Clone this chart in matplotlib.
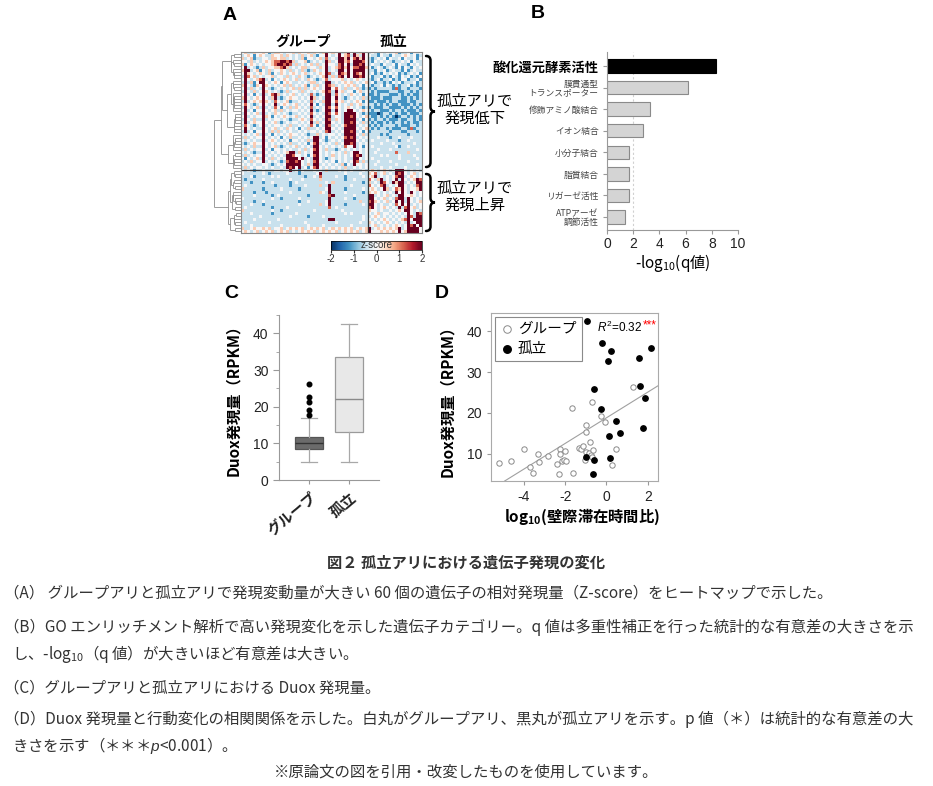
import numpy as np
import matplotlib
matplotlib.use("Agg")
from matplotlib import pyplot as plt
from matplotlib.path import Path
from matplotlib.patches import PathPatch
from matplotlib.collections import LineCollection
from matplotlib.ticker import MultipleLocator

plt.rcParams['font.family'] = ['Liberation Sans', 'Noto Sans CJK JP', 'DejaVu Sans']
plt.rcParams['mathtext.fontset'] = 'custom'
plt.rcParams['mathtext.rm'] = 'Liberation Sans'
plt.rcParams['mathtext.it'] = 'Liberation Sans:italic'
plt.rcParams['mathtext.bf'] = 'Liberation Sans:bold'
plt.rcParams['mathtext.default'] = 'regular'
plt.rcParams['axes.unicode_minus'] = False

JP = ['Noto Sans CJK JP', 'DejaVu Sans']

# --- A: heatmap, levels 0..6 (see z_levels) ; 42 group columns | 18 isolated columns
z_levels = [-2.0, -1.2, -0.45, 0.0, 0.5, 1.2, 2.0]
hm_rows = [
    "342243 343124 432334 243342 432463 436246 362463 | 232132 323412 231323",
    "234313 432243 342432 324234 213363 236345 264263 | 322132 213223 432312",
    "423412 233244 344232 324133 234252 326646 356463 | 212323 132231 322313",
    "332423 234345 566564 233412 323264 236645 366653 | 213232 321223 231322",
    "413432 323345 665652 423234 242363 325636 266563 | 232213 223132 213232",
    "362321 242334 456423 234423 324362 345646 355664 | 312321 232131 321323",
    "466234 132423 343242 324212 432362 326636 366663 | 221323 123221 312322",
    "364323 432413 243234 323423 234365 236546 365463 | 231213 232312 123231",
    "265342 323342 332423 243212 323462 425636 366563 | 312231 213213 231213",
    "363234 562313 234323 423243 212352 333423 234323 | 212312 231213 312231",
    "262413 663234 313432 232324 423266 232343 423234 | 231221 213231 222312",
    "463214 364323 234242 323413 242365 423234 342313 | 212231 321212 231212",
    "362423 263212 323234 242423 432366 353242 234212 | 121222 221512 212221",
    "263242 364323 212423 324232 323465 263423 313423 | 212111 122211 221212",
    "362313 262356 423234 232325 212366 253232 432313 | 112122 211121 212112",
    "463234 363246 212343 323236 423266 363212 323242 | 211121 112221 121212",
    "262343 464325 323412 232325 232466 353423 234313 | 112111 212211 121122",
    "353212 363236 234323 423236 313266 263232 423423 | 221212 121121 112121",
    "263234 262325 313242 432325 232365 353234 323212 | 121112 211112 121212",
    "362313 363234 242323 323236 212366 263236 632343 | 212211 121221 211121",
    "263234 262324 323212 232325 323265 353266 663212 | 111012 212121 121112",
    "362323 364313 234323 423236 232366 233266 563234 | 211212 121012 212121",
    "263242 262323 323212 234325 323265 243266 662313 | 121221 211121 122121",
    "362343 363234 212323 323236 242366 323266 563242 | 212112 121221 212112",
    "253212 362323 323242 232325 313265 232356 662323 | 121212 222121 112212",
    "363232 263234 232432 313242 232366 323266 663234 | 212122 121112 215122",
    "262313 363242 423232 232323 323256 232366 562313 | 122222 212221 122212",
    "323234 262313 232343 323212 242323 323266 663242 | 222212 122222 212222",
    "242323 363232 313242 232323 662313 232356 562323 | 222322 212232 223222",
    "323232 262343 232313 323242 663212 323266 663232 | 232222 322212 232222",
    "212343 363232 323242 232313 562323 242366 562323 | 222232 223222 222322",
    "323242 263234 212323 423232 663232 323253 362313 | 232222 222312 232222",
    "242323 362313 323232 232423 563242 212323 232323 | 222322 232222 222232",
    "323212 263232 323466 242323 663232 323242 366323 | 223222 222522 242222",
    "242323 362323 232665 332313 563232 423232 365623 | 222232 322232 222322",
    "313234 263242 323666 636232 663212 323232 266323 | 232222 222232 222232",
    "232423 362323 212566 563232 563232 313232 365242 | 222322 232222 232222",
    "323232 233212 323666 663242 662323 232413 263323 | 223222 222322 222232",
    "242323 323232 232656 362313 563232 323242 232323 | 222232 232222 322222",
    "323212 232223 323362 313222 323242 223232 322232 | 343234 323666 323232",
    "322222 232122 222322 212222 236222 222232 222322 | 435234 232656 323423",
    "222312 222232 322222 222122 325222 232212 222232 | 346232 323566 234323",
    "212222 232222 222232 223222 224222 222212 232222 | 532462 323626 323465",
    "222122 212232 222212 322222 222232 422222 222212 | 423265 326466 232366",
    "232222 222221 222212 222322 224226 222222 322222 | 532356 232366 323256",
    "422222 212222 232222 212222 222236 222212 222232 | 343236 423546 323346",
    "222212 221222 222232 222222 224326 222232 222212 | 434323 232636 326323",
    "222232 222212 322222 222212 222225 622222 232222 | 662323 423266 334323",
    "322222 222232 212222 232222 222226 222232 212222 | 663234 232566 263232",
    "222212 232222 222222 212232 222236 222222 222422 | 564323 423636 263234",
    "222322 212222 222222 232222 224236 222212 222232 | 663232 232536 362323",
    "232222 222212 222322 222222 222225 232222 222222 | 563234 323262 563423",
    "422222 222232 212222 222222 322222 222322 222222 | 433232 232343 663232",
    "222322 222212 222222 322222 222222 222232 322222 | 323423 323232 363265",
    "222222 322222 222232 222212 222322 222222 222232 | 234323 232323 265266",
    "222232 222222 322222 222222 222226 622222 222232 | 323234 323234 563666",
    "232222 222322 222222 222322 222222 232222 222322 | 432323 432323 262366",
    "222322 222222 232222 222232 222322 222222 322222 | 234232 323432 365636",
    "422343 343423 342343 434234 343423 434343 423434 | 623434 343462 366663",
    "343234 234342 343423 234343 423434 342343 434234 | 633343 434363 466663",
]
n_group_cols = 42
n_down_rows = 39

# --- B: GO enrichment
go_terms = ['酸化還元酵素活性', '膜貫通型\nトランスポーター', '修飾アミノ酸結合', 'イオン結合',
            '小分子結合', '脂質結合', 'リガーゼ活性', 'ATPアーゼ\n調節活性']
go_q = [8.35, 6.2, 3.3, 2.75, 1.68, 1.68, 1.68, 1.37]

# --- C: Duox box plot
box_labels = ['グループ', '孤立']
box_low = [5.0, 5.0]
box_q1 = [8.4, 13.1]
box_med = [10.0, 22.2]
box_q3 = [11.6, 33.5]
box_high = [17.0, 42.5]
group_outliers = [17.6, 19.0, 21.2, 22.6, 26.1]

# --- D: Duox vs wall time ratio
grp_x = [-5.23, -4.63, -3.98, -3.73, -3.56, -3.34, -3.27, -2.85, -2.39, -2.31, -2.27, -2.27, -2.16,
         -2.05, -1.98, -2.0, -1.65, -1.61, -1.32, -1.23, -1.13, -0.98, -1.0, -1.0, -1.05, -0.82,
         -0.84, -0.76, -0.68, -0.63, -0.68, -0.26, -0.06, 0.26, 0.44, 1.27, -1.68]
grp_y = [7.7, 8.3, 11.1, 6.7, 5.3, 10.1, 8.0, 9.4, 7.5, 5.0, 11.1, 10.1, 8.3,
         8.5, 8.4, 10.8, 21.3, 5.4, 11.5, 11.1, 12.0, 17.1, 15.4, 10.4, 8.5, 12.8,
         10.2, 9.7, 9.3, 10.9, 22.8, 19.2, 17.7, 7.2, 11.3, 26.3, 41.9]
iso_x = [-0.95, -0.24, 0.21, 0.08, 1.60, 2.18, -0.58, 1.65, 1.85, -0.26, 0.48, 0.66, 0.13, 1.76,
         -0.98, -0.58, 0.16, -0.63]
iso_y = [42.5, 37.0, 35.1, 32.6, 33.3, 35.9, 25.9, 26.7, 23.6, 21.0, 18.0, 15.1, 14.3, 16.3,
         9.3, 8.5, 9.1, 5.1]

heat = np.array([[int(c) for c in r.replace('|', '').replace(' ', '')] for r in hm_rows])
zscore = np.array(z_levels)[heat]

W, H = 933, 786
fig = plt.figure(figsize=(W / 100, H / 100), dpi=100)


def box(l, t, r, b):
    return [l / W, 1 - b / H, (r - l) / W, (b - t) / H]


ov = fig.add_axes([0, 0, 1, 1])
ov.set_xlim(0, W)
ov.set_ylim(H, 0)
ov.axis('off')


def tree_segments(mat):
    # ward-like merging restricted to neighbouring rows so leaf order stays
    nodes = [([i], float(i), 0.0) for i in range(len(mat))]
    segs = []
    h = 0.0
    while len(nodes) > 1:
        best, k = None, 0
        for j in range(len(nodes) - 1):
            ra, rb = nodes[j][0], nodes[j + 1][0]
            na, nb = len(ra), len(rb)
            d = np.sqrt(2 * na * nb / (na + nb)) * np.linalg.norm(mat[ra].mean(0) - mat[rb].mean(0))
            if best is None or d < best:
                best, k = d, j
        (ra, ya, ha), (rb, yb, hb) = nodes[k], nodes[k + 1]
        h = max(best, ha, hb)
        segs += [[(ha, ya), (h, ya)], [(hb, yb), (h, yb)], [(h, ya), (h, yb)]]
        nodes[k:k + 2] = [(ra + rb, (ya + yb) / 2, h)]
    return segs, h


# ---------------- A
ax_hm = fig.add_axes(box(241, 52, 422, 233))
im = ax_hm.imshow(zscore, cmap='RdBu_r', vmin=-2, vmax=2, aspect='auto', interpolation='nearest')
ax_hm.set_xticks([])
ax_hm.set_yticks([])
for s in ax_hm.spines.values():
    s.set_color('#888888')
    s.set_linewidth(0.8)
ax_hm.axvline(n_group_cols - 0.5, color='#333333', lw=0.9)
ax_hm.axhline(n_down_rows - 0.5, color='#333333', lw=0.9)

ax_dn = fig.add_axes(box(213, 52, 241, 233))
segs, hmax = tree_segments(zscore)
# compress heights a little so the leaf branches show
segs = [[(x ** 0.7, y) for x, y in sg] for sg in segs]
ax_dn.add_collection(LineCollection(segs, colors='#8c8c8c', linewidths=0.6))
ax_dn.set_ylim(len(zscore) - 0.5, -0.5)
ax_dn.set_xlim(hmax ** 0.7 * 1.02, 0)
ax_dn.axis('off')

cax = fig.add_axes(box(331, 241, 422, 250))
cb = fig.colorbar(im, cax=cax, orientation='horizontal', ticks=[-2, -1, 0, 1, 2])
cb.ax.tick_params(labelsize=7, length=2, pad=1, colors='#333333')
cb.outline.set_linewidth(0.5)
cax.text(0.5, 0.5, 'z-score', transform=cax.transAxes, ha='center', va='center', fontsize=7, color='#333333')

ov.text(303, 42, 'グループ', ha='center', va='center', fontsize=10, fontweight='bold', family=JP)
ov.text(394, 42, '孤立', ha='center', va='center', fontsize=10, fontweight='bold', family=JP)


def brace(x, y0, y1, w):
    ym = (y0 + y1) / 2
    xm = x + w / 2
    verts = [(x, y0), (xm, y0), (xm, y0 + w / 2), (xm, ym - w / 2), (xm, ym), (x + w, ym),
             (xm, ym), (xm, ym + w / 2), (xm, y1 - w / 2), (xm, y1), (x, y1)]
    codes = [Path.MOVETO, Path.CURVE3, Path.CURVE3, Path.LINETO, Path.CURVE3, Path.CURVE3,
             Path.CURVE3, Path.CURVE3, Path.LINETO, Path.CURVE3, Path.CURVE3]
    ov.add_patch(PathPatch(Path(verts, codes), fill=False, lw=1.8, color='black', capstyle='round'))


brace(426, 56, 167, 9)
brace(426, 174, 231, 9)
ov.text(475, 110, '孤立アリで\n発現低下', ha='center', va='center', fontsize=11, linespacing=1.0, family=JP)
ov.text(475, 197, '孤立アリで\n発現上昇', ha='center', va='center', fontsize=11, linespacing=1.0, family=JP)

# ---------------- B
ax_b = fig.add_axes(box(607, 52, 738, 230))
ypos = np.arange(len(go_terms))
ax_b.barh(ypos, go_q, height=0.62, color=['black'] + ['#d4d4d4'] * 7,
          edgecolor=['black'] + ['#8a8a8a'] * 7, linewidth=0.8, zorder=2)
ax_b.axvline(2, color='#d0d0d0', lw=0.8, ls=(0, (2, 2)), zorder=0)
ax_b.set_xlim(0, 10)
ax_b.set_ylim(len(go_terms) - 0.4, -0.65)
ax_b.set_xticks([0, 2, 4, 6, 8, 10])
ax_b.set_yticks(ypos)
ax_b.set_yticklabels(go_terms)
for i, lab in enumerate(ax_b.get_yticklabels()):
    lab.set_family(JP)
    lab.set_linespacing(1.0)
    if i == 0:
        lab.set_fontsize(9.5)
        lab.set_fontweight('bold')
        lab.set_color('black')
    else:
        lab.set_fontsize(6.3)
        lab.set_color('#444444')
for s in ['top', 'right']:
    ax_b.spines[s].set_visible(False)
for s in ['left', 'bottom']:
    ax_b.spines[s].set_color('#999999')
    ax_b.spines[s].set_linewidth(0.8)
ax_b.tick_params(axis='x', labelsize=10, length=3, color='#999999', labelcolor='#222222', pad=2)
ax_b.tick_params(axis='y', length=3, color='#999999', pad=3)
ax_b.set_xlabel('-log$_{10}$(q値)', fontsize=11, family=JP, labelpad=1)

# ---------------- C
ax_c = fig.add_axes(box(279, 315, 379, 480))
stats = []
for i in range(2):
    stats.append(dict(label=box_labels[i], whislo=box_low[i], q1=box_q1[i], med=box_med[i],
                      q3=box_q3[i], whishi=box_high[i], fliers=group_outliers if i == 0 else []))
bp = ax_c.bxp(stats, positions=[1, 2], widths=0.7, capwidths=0.38, patch_artist=True,
              whiskerprops=dict(color='#a8a8a8', lw=0.9), capprops=dict(color='#a8a8a8', lw=0.9),
              flierprops=dict(marker='o', markerfacecolor='black', markeredgecolor='black', markersize=3.3))
bp['boxes'][0].set(facecolor='#6b6b6b', edgecolor='#555555', lw=0.9)
bp['boxes'][1].set(facecolor='#e8e8e8', edgecolor='#9a9a9a', lw=0.9)
bp['medians'][0].set(color='#333333', lw=1.0)
bp['medians'][1].set(color='#8a8a8a', lw=1.0)
ax_c.set_xlim(0.25, 2.75)
ax_c.set_ylim(0, 45)
ax_c.set_yticks([0, 10, 20, 30, 40])
ax_c.yaxis.set_minor_locator(MultipleLocator(5))
for s in ['top', 'right']:
    ax_c.spines[s].set_visible(False)
for s in ['left', 'bottom']:
    ax_c.spines[s].set_color('#999999')
    ax_c.spines[s].set_linewidth(0.8)
ax_c.tick_params(axis='both', which='both', color='#999999', labelcolor='#222222', labelsize=10)
ax_c.tick_params(axis='y', which='major', length=4)
ax_c.tick_params(axis='y', which='minor', length=2.5)
ax_c.tick_params(axis='x', length=3)
ax_c.set_xticklabels(box_labels, rotation=40, ha='right', rotation_mode='anchor',
                     fontsize=10.5, fontweight='bold', family=JP)
ov.text(233, 396, 'Duox発現量（RPKM）', rotation=90, ha='center', va='center', fontsize=11,
        fontweight='bold', family=JP)

# ---------------- D
ax_d = fig.add_axes(box(491, 313, 658, 481))
ax_d.scatter(grp_x, grp_y, s=15, facecolors='white', edgecolors='#8a8a8a', linewidths=0.7,
             label='グループ', zorder=3)
ax_d.scatter(iso_x, iso_y, s=15, c='black', label='孤立', zorder=3)
all_x = np.array(grp_x + iso_x)
all_y = np.array(grp_y + iso_y)
slope, icept = np.polyfit(all_x, all_y, 1)
ax_d.axline((0, icept), slope=slope, color='#a0a0a0', lw=0.8, zorder=2)
ax_d.set_xlim(-5.6, 2.5)
ax_d.set_ylim(3.4, 44.4)
ax_d.set_xticks([-4, -2, 0, 2])
ax_d.set_yticks([10, 20, 30, 40])
for s in ax_d.spines.values():
    s.set_color('#aaaaaa')
    s.set_linewidth(0.8)
ax_d.tick_params(axis='both', length=3, color='#999999', labelcolor='#222222', labelsize=10)
leg = ax_d.legend(loc='upper left', bbox_to_anchor=(0.0, 1.0), borderaxespad=0.25,
                  prop=dict(family=JP, size=10.5), fancybox=False, framealpha=1,
                  edgecolor='#8a8a8a', handletextpad=0.25, borderpad=0.35, labelspacing=0.4,
                  handlelength=1.0, markerscale=1.4)
leg.get_frame().set_linewidth(0.8)
leg.set_zorder(5)
t_r2 = ax_d.text(0.635, 0.915, r'$\mathit{R}^2$=0.32', transform=ax_d.transAxes, ha='left',
                 va='center', fontsize=8.5)
ax_d.annotate('***', xy=(1, 0.6), xycoords=t_r2, ha='left', va='center', fontsize=8.5, color='red')
ov.text(447, 397, 'Duox発現量（RPKM）', rotation=90, ha='center', va='center', fontsize=11,
        fontweight='bold', family=JP)
ov.text(582, 517, 'log$_{10}$(壁際滞在時間比)', ha='center', va='center', fontsize=11,
        fontweight='bold', family=JP)

# ---------------- panel letters
for letter, x, y in [('A', 223, 15), ('B', 531, 14), ('C', 224, 293), ('D', 435, 293)]:
    ov.text(x, y, letter, ha='left', va='center', fontsize=14, fontweight='bold')

# ---------------- caption
cap = '#333333'
ov.text(466, 563, '図２ 孤立アリにおける遺伝子発現の変化', ha='center', va='center', fontsize=11,
        fontweight='bold', color=cap, family=JP)
cap_lines = [
    (4, 593, '（A） グループアリと孤立アリで発現変動量が大きい 60 個の遺伝子の相対発現量（Z-score）をヒートマップで示した。'),
    (4, 627, '（B）GO エンリッチメント解析で高い発現変化を示した遺伝子カテゴリー。q 値は多重性補正を行った統計的な有意差の大きさを示'),
    (12, 654, 'し、-log$_{10}$（q 値）が大きいほど有意差は大きい。'),
    (4, 688, '（C）グループアリと孤立アリにおける Duox 発現量。'),
    (4, 719, '（D）Duox 発現量と行動変化の相関関係を示した。白丸がグループアリ、黒丸が孤立アリを示す。p 値（＊）は統計的な有意差の大'),
    (12, 746, r'きさを示す（＊＊＊$\mathit{p}$<0.001）。'),
]
for x, y, s in cap_lines:
    ov.text(x, y, s, ha='left', va='center', fontsize=11.1, color=cap, family=JP)
ov.text(466, 772, '※原論文の図を引用・改変したものを使用しています。', ha='center', va='center',
        fontsize=11.1, color=cap, family=JP)

fig.savefig('out.png', dpi=100)
